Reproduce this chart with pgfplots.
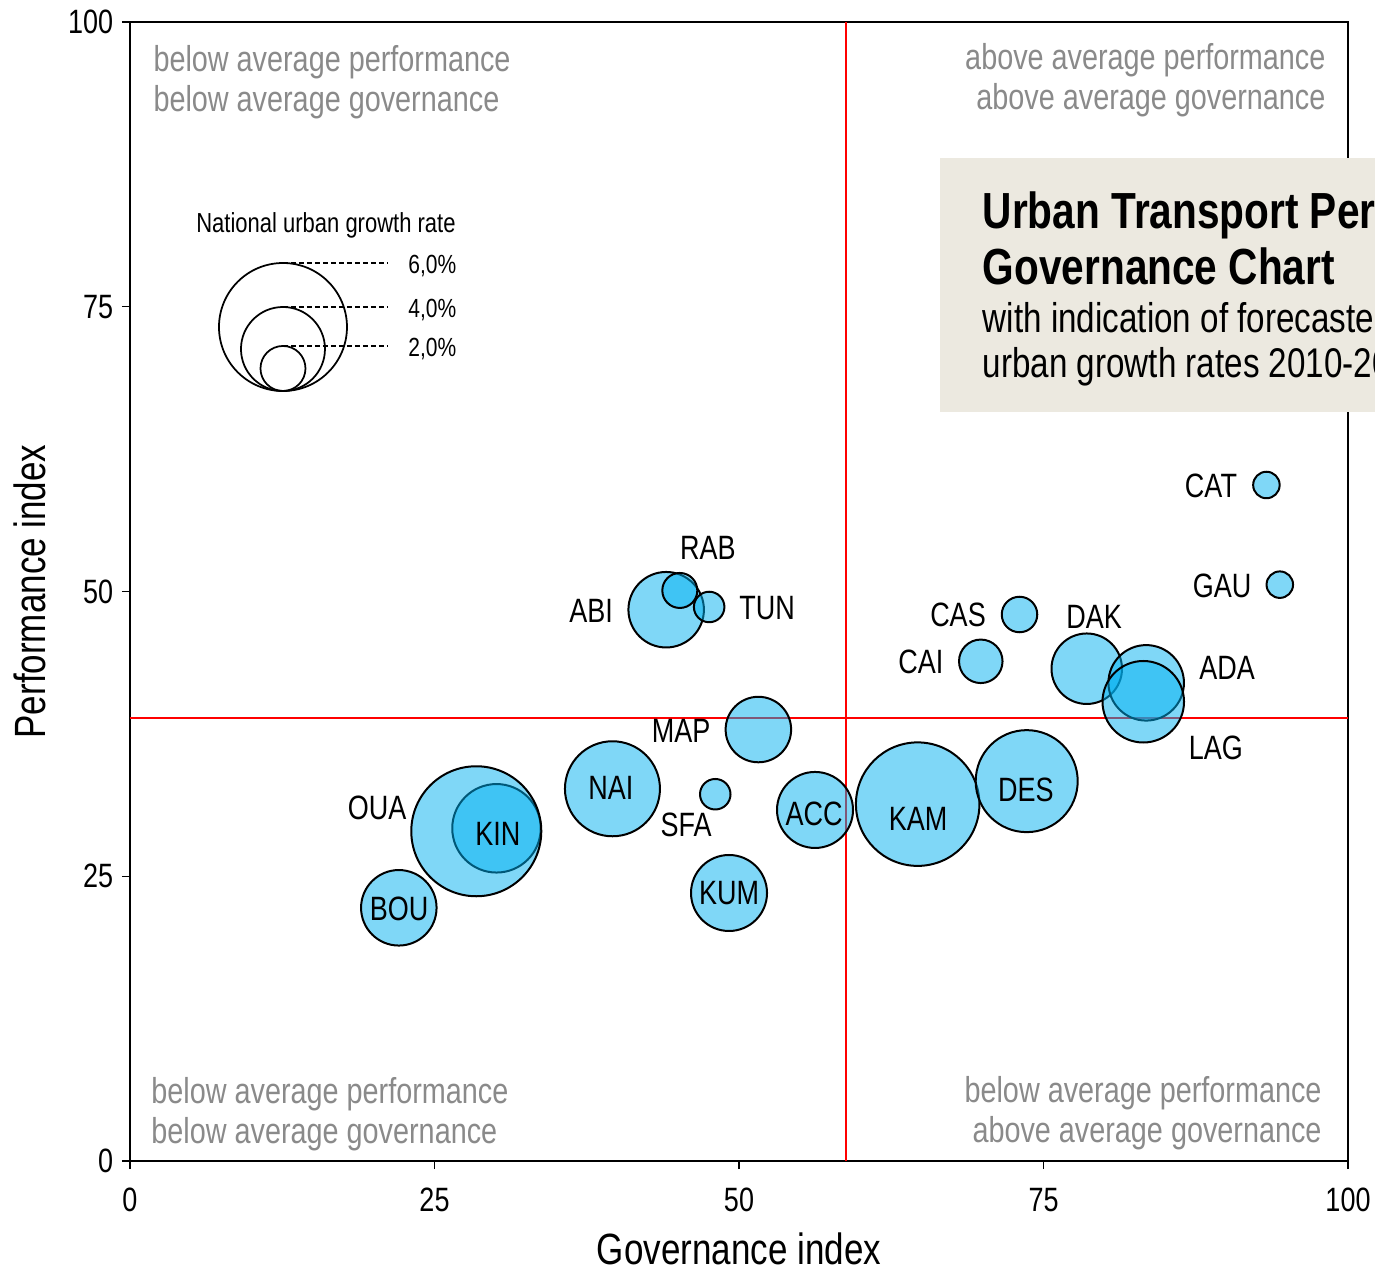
\documentclass[border=0pt]{standalone}
\usepackage{pgfplots}
\usepackage{pgfplotstable}
\pgfplotsset{compat=1.18}
\usepackage{fontspec}
\setmainfont{Liberation Sans}[FakeStretch=0.8]
\definecolor{bub}{HTML}{00B0F0}
\definecolor{boxc}{HTML}{ECE9E0}
\definecolor{qgray}{HTML}{8A8A8A}

\pgfplotstableread{
x y r
22.07 22.23 15.1
30.09 29.21 17.7
28.43 28.95 26.0
39.61 32.68 19.0
48.05 32.20 6.1
49.18 23.53 15.2
51.59 37.88 13.1
44.02 48.40 15.1
45.14 50.09 7.0
47.55 48.64 6.1
56.24 30.82 15.2
64.67 31.33 24.7
73.62 33.35 20.4
69.85 43.87 8.7
73.03 47.98 7.1
78.55 43.22 14.1
83.43 41.98 15.1
83.19 40.32 16.3
93.30 59.35 5.3
94.40 50.60 5.3
}\bubbles

\pgfplotstableread{
x y lab
88.75 59.26 CAT
89.66 50.48 GAU
67.98 47.94 CAS
64.94 43.81 CAI
79.15 47.76 DAK
90.07 43.28 ADA
89.16 36.26 LAG
73.56 32.57 DES
64.70 30.03 KAM
56.16 30.47 ACC
49.18 23.53 KUM
45.65 29.50 SFA
45.24 37.75 MAP
39.49 32.75 NAI
47.45 53.82 RAB
37.85 48.29 ABI
52.30 48.55 TUN
20.28 30.99 OUA
30.21 28.71 KIN
22.09 22.12 BOU
}\labels

\pgfplotstableread{
x y r
12.56 73.22 25.6
12.56 71.29 16.8
12.56 69.58 9.0
}\legcirc

\begin{document}
\begin{tikzpicture}
\begin{axis}[
  scale only axis, width=487.2pt, height=455.6pt,
  xmin=0, xmax=100, ymin=0, ymax=100,
  xtick={0,25,50,75,100}, ytick={0,25,50,75,100},
  tick align=outside, tick pos=left, major tick length=3.2pt,
  tick style={black, line width=0.5pt},
  axis line style={line width=0.6pt},
  clip=false,
  /pgf/number format/assume math mode=true,
  ticklabel style={font=\fontsize{13.5}{14}\selectfont},
  xticklabel style={yshift=-4pt},
  xlabel={Governance index}, ylabel={Performance index},
  label style={font=\fontsize{17.5}{18}\selectfont},
  xlabel style={yshift=-1.4pt},
  ylabel style={yshift=2pt},
]
\coordinate (sw) at (rel axis cs:0,0);
\coordinate (ne) at (rel axis cs:1,1);

% bubbles
\addplot[scatter, only marks, mark=*,
  scatter/use mapped color={draw=black, fill=bub},
  visualization depends on={\thisrow{r} \as \rr},
  scatter/@pre marker code/.append style={/tikz/mark size=\rr},
  mark options={fill opacity=0.5, line width=0.8pt}]
  table[x=x, y=y] {\bubbles};

% quadrant lines
\addplot[red, line width=0.8pt] coordinates {(58.78,0) (58.78,100)};
\addplot[red, line width=0.8pt] coordinates {(0,38.89) (100,38.89)};

% city labels
\addplot[draw=none, mark=none, nodes near coords, nodes near coords align=center,
  point meta=explicit symbolic,
  every node near coord/.append style={font=\fontsize{13.5}{14}\selectfont, text=black, inner sep=0pt}]
  table[x=x, y=y, meta=lab] {\labels};

% size legend
\addplot[scatter, only marks, mark=o,
  scatter/use mapped color={draw=black, fill=none},
  visualization depends on={\thisrow{r} \as \rr},
  scatter/@pre marker code/.append style={/tikz/mark size=\rr},
  mark options={line width=0.7pt}]
  table[x=x, y=y] {\legcirc};
\addplot[black, dash pattern=on 2pt off 1.2pt, line width=0.6pt] coordinates {(12.56,78.84) (21.18,78.84)};
\addplot[black, dash pattern=on 2pt off 1.2pt, line width=0.6pt] coordinates {(12.56,74.98) (21.18,74.98)};
\addplot[black, dash pattern=on 2pt off 1.2pt, line width=0.6pt] coordinates {(12.56,71.55) (21.18,71.55)};
\node[anchor=west, inner sep=0pt, font=\fontsize{10.5}{11}\selectfont] at (axis cs:22.82,78.6) {6,0\%};
\node[anchor=west, inner sep=0pt, font=\fontsize{10.5}{11}\selectfont] at (axis cs:22.82,74.75) {4,0\%};
\node[anchor=west, inner sep=0pt, font=\fontsize{10.5}{11}\selectfont] at (axis cs:22.82,71.3) {2,0\%};
\node[inner sep=0pt, font=\fontsize{11}{12}\selectfont] at (axis cs:16.09,82.1) {National urban growth rate};

% quadrant texts
\node[anchor=north west, align=left, inner sep=0pt, text=qgray, font=\fontsize{14.4}{16}\selectfont] at (axis cs:1.89,97.98) {below average performance\\below average governance};
\node[anchor=north east, align=right, inner sep=0pt, text=qgray, font=\fontsize{14.4}{16}\selectfont] at (axis cs:98.19,98.15) {above average performance\\above average governance};
\node[anchor=north west, align=left, inner sep=0pt, text=qgray, font=\fontsize{14.4}{16}\selectfont] at (axis cs:1.72,7.4) {below average performance\\below average governance};
\node[anchor=north east, align=right, inner sep=0pt, text=qgray, font=\fontsize{14.4}{16}\selectfont] at (axis cs:97.87,7.5) {below average performance\\above average governance};

% title box
\fill[boxc] (axis cs:66.5,65.76) rectangle (axis cs:115,88.06);
\node[anchor=base west, inner sep=0pt, font=\fontsize{20.3}{22}\selectfont\bfseries] at (axis cs:69.98,81.91) {Urban Transport Performance \&};
\node[anchor=base west, inner sep=0pt, font=\fontsize{20.3}{22}\selectfont\bfseries] at (axis cs:69.98,76.91) {Governance Chart};
\node[anchor=base west, inner sep=0pt, font=\fontsize{16.6}{17}\selectfont] at (axis cs:69.98,72.70) {with indication of forecasted};
\node[anchor=base west, inner sep=0pt, font=\fontsize{16.6}{17}\selectfont] at (axis cs:69.98,68.83) {urban growth rates 2010-2025};
\end{axis}
\pgfresetboundingbox
\path[use as bounding box] ([shift={(-52pt,-43.2pt)}]sw) rectangle ([shift={(10.8pt,8.8pt)}]ne);
\end{tikzpicture}
\end{document}
